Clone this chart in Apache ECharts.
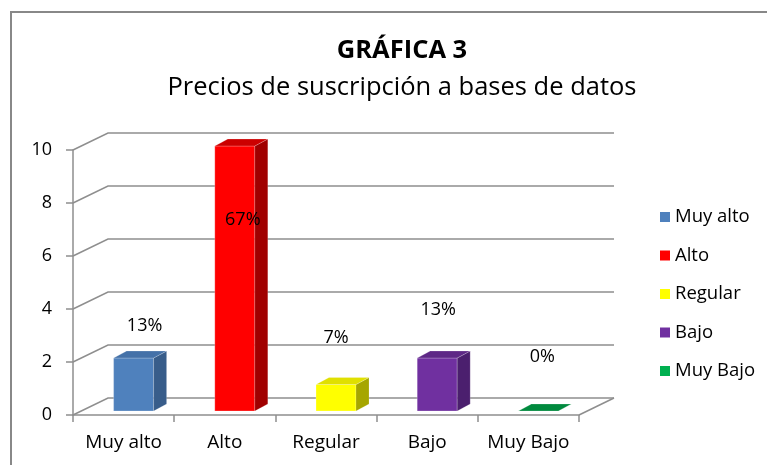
<!DOCTYPE html>
<html>
<head>
<meta charset="utf-8">
<script src="https://cdn.jsdelivr.net/npm/echarts@6/dist/echarts.min.js"></script>
<style>
	html, body { margin: 0; padding: 0; background: #fff; }
	#chart { width: 767px; height: 465px; }
</style>
</head>
<body>
<div id="chart"></div>
<script>
	var categories = ['Muy alto', 'Alto', 'Regular', 'Bajo', 'Muy Bajo'];
	var values = [2, 10, 1, 2, 0];
	var yTicks = [0, 2, 4, 6, 8, 10];

	var font = '"Open Sans", "Liberation Sans", sans-serif';
	// colores de cara frontal, lateral y superior
	var frontColors = ['#4F81BD', '#FF0000', '#FFFF00', '#7030A0', '#00B050'];
	var sideColors = ['#385D8A', '#A00000', '#A6A600', '#4B1F6E', '#00753A'];
	var topColors = ['#4471A8', '#CC0000', '#E0E000', '#5E2886', '#008A3E'];
	// desplazamiento de las etiquetas respecto a la cara frontal
	var labelOffsets = [[11, -32], [8, 74], [0, -47], [1, -48], [4, -54]];

	var DX = 35, DY = -17;          // profundidad del fondo
	var BAR_L = -10, BAR_R = 30;    // cara frontal respecto al centro de la categoria
	var BAR_DY = -4;                // elevacion de la base de la barra
	var SDX = 13, SDY = -7;         // profundidad de la barra

	var total = 0;
	for (var i = 0; i < values.length; i++) total += values[i];

	var lineColor = '#8E8E8E';

	function renderWall(params, api) {
		var cs = params.coordSys;
		var y = api.coord([0, api.value(1)])[1];
		var children = [{
			type: 'polyline',
			shape: { points: [[cs.x, y], [cs.x + DX, y + DY], [cs.x + cs.width + DX, y + DY]] },
			style: { stroke: lineColor, lineWidth: 1.5, fill: null }
		}];
		if (api.value(1) === 0) {
			children.push({
				type: 'line',
				shape: { x1: cs.x + cs.width, y1: y, x2: cs.x + cs.width + DX, y2: y + DY },
				style: { stroke: lineColor, lineWidth: 1.5 }
			});
		}
		return { type: 'group', children: children };
	}

	function makeBarRenderer(idx) {
		return function(params, api) {
			var pt = api.coord([api.value(0), api.value(1)]);
			var base = api.coord([api.value(0), 0]);
			var l = pt[0] + BAR_L, r = pt[0] + BAR_R;
			var t = pt[1] + BAR_DY, b = base[1] + BAR_DY;
			var children = [];
			if (b - t > 0.5) {
				children.push({
					type: 'rect',
					shape: { x: l, y: t, width: r - l, height: b - t },
					style: { fill: frontColors[idx], stroke: 'rgba(255,255,255,0.35)', lineWidth: 0.7 }
				});
				children.push({
					type: 'polygon',
					shape: { points: [[r, t], [r + SDX, t + SDY], [r + SDX, b + SDY], [r, b]] },
					style: { fill: sideColors[idx], stroke: 'rgba(255,255,255,0.25)', lineWidth: 0.7 }
				});
			}
			children.push({
				type: 'polygon',
				shape: { points: [[l, t], [l + SDX, t + SDY], [r + SDX, t + SDY], [r, t]] },
				style: { fill: topColors[idx], stroke: 'rgba(255,255,255,0.3)', lineWidth: 0.7 }
			});
			var off = labelOffsets[idx];
			children.push({
				type: 'text',
				z2: 10,
				style: {
					text: Math.round(api.value(1) / total * 100) + '%',
					x: (l + r) / 2 + off[0],
					y: t + off[1],
					align: 'center',
					verticalAlign: 'middle',
					fontSize: 18,
					fontFamily: font,
					fill: '#000'
				}
			});
			return { type: 'group', children: children };
		};
	}

	var series = [{
		name: 'pared',
		type: 'custom',
		clip: false,
		silent: true,
		z: 1,
		renderItem: renderWall,
		encode: { x: 0, y: 1 },
		data: yTicks.map(function(t) { return [0, t]; })
	}];
	for (var k = 0; k < categories.length; k++) {
		series.push({
			name: categories[k],
			type: 'custom',
			clip: false,
			z: 3,
			itemStyle: { color: frontColors[k] },
			renderItem: makeBarRenderer(k),
			encode: { x: 0, y: 1 },
			data: [[k, values[k]]]
		});
	}

	var chart = echarts.init(document.getElementById('chart'));
	chart.setOption({
		animation: false,
		backgroundColor: '#fff',
		title: [{
			text: 'GRÁFICA 3',
			left: 397,
			top: 33,
			textAlign: 'center',
			textStyle: { fontSize: 25.5, fontWeight: 'bold', fontFamily: font, color: '#000' }
		}, {
			text: 'Precios de suscripción a bases de datos',
			left: 397,
			top: 70,
			textAlign: 'center',
			textStyle: { fontSize: 25.5, fontWeight: 'normal', fontFamily: font, color: '#000' }
		}],
		legend: {
			data: categories,
			orient: 'vertical',
			left: 655,
			top: 202,
			icon: 'rect',
			itemWidth: 10,
			itemHeight: 10,
			itemGap: 18.5,
			selectedMode: false,
			textStyle: { fontSize: 18.5, fontFamily: font, color: '#000', lineHeight: 20 }
		},
		grid: { left: 73, right: 188, top: 150, bottom: 50 },
		xAxis: {
			type: 'category',
			data: categories,
			axisLine: { show: true, lineStyle: { color: lineColor, width: 1.5 } },
			axisTick: { show: true, length: 7, lineStyle: { color: lineColor, width: 1.5 } },
			axisLabel: { interval: 0, margin: 18, fontSize: 19, fontFamily: font, color: '#000' },
			splitLine: { show: false }
		},
		yAxis: {
			type: 'value',
			min: 0,
			max: 10,
			interval: 2,
			axisLine: { show: true, lineStyle: { color: lineColor, width: 1.5 } },
			axisTick: { show: true, length: 7, lineStyle: { color: lineColor, width: 1.5 } },
			axisLabel: { margin: 21, fontSize: 18, fontFamily: font, color: '#000' },
			splitLine: { show: false }
		},
		graphic: [{
			type: 'line',
			shape: { x1: 10, y1: 12, x2: 767, y2: 12 },
			style: { stroke: '#888', lineWidth: 2 }
		}, {
			type: 'line',
			shape: { x1: 11, y1: 12, x2: 11, y2: 465 },
			style: { stroke: '#888', lineWidth: 2 }
		}],
		series: series
	});
</script>
</body>
</html>
